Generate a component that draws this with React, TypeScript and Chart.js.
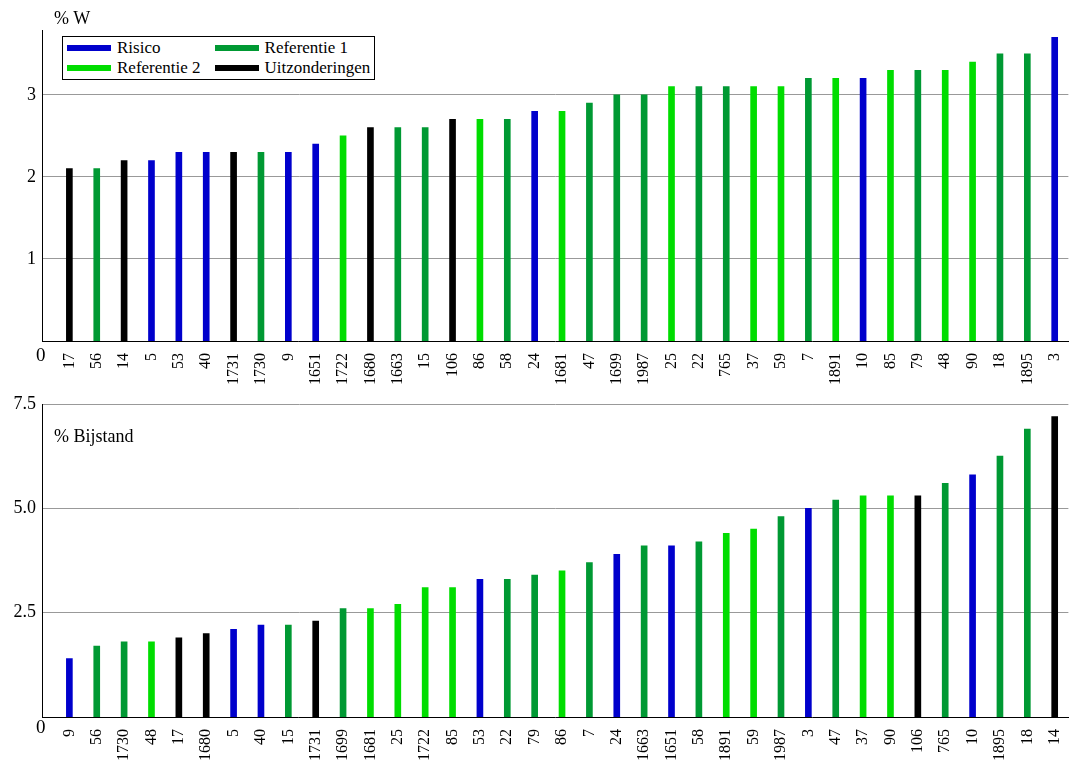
import React, { useEffect, useRef } from "react";
import { Chart, registerables } from "chart.js";
Chart.register(...registerables);

const BLUE = "#0000cc", REF1 = "#009933", REF2 = "#00dd00", BLACK = "#000000";
const colorOf: Record<string, string> = { R: BLUE, A: REF1, B: REF2, U: BLACK };

const topCats = ["17","56","14","5","53","40","1731","1730","9","1651","1722","1680","1663","15","106","86","58","24","1681","47","1699","1987","25","22","765","37","59","7","1891","10","85","79","48","90","18","1895","3"];
const topVals = [2.1,2.1,2.2,2.2,2.3,2.3,2.3,2.3,2.3,2.4,2.5,2.6,2.6,2.6,2.7,2.7,2.7,2.8,2.8,2.9,3.0,3.0,3.1,3.1,3.1,3.1,3.1,3.2,3.2,3.2,3.3,3.3,3.3,3.4,3.5,3.5,3.7];
const topGroups = ["U","A","U","R","R","R","U","A","R","R","B","U","A","A","U","B","A","R","B","A","A","A","B","A","A","B","B","A","B","R","B","A","B","B","A","A","R"];

const botCats = ["9","56","1730","48","17","1680","5","40","15","1731","1699","1681","25","1722","85","53","22","79","86","7","24","1663","1651","58","1891","59","1987","3","47","37","90","106","765","10","1895","18","14"];
const botVals = [1.4,1.7,1.8,1.8,1.9,2.0,2.1,2.2,2.2,2.3,2.6,2.6,2.7,3.1,3.1,3.3,3.3,3.4,3.5,3.7,3.9,4.1,4.1,4.2,4.4,4.5,4.8,5.0,5.2,5.3,5.3,5.3,5.6,5.8,6.25,6.9,7.2];
const botGroups = ["R","A","A","B","U","U","R","R","A","U","A","B","B","B","B","R","A","A","B","A","R","A","R","A","B","B","A","R","A","B","B","U","A","R","A","A","U"];

const topTicks = [1, 2, 3];
const botTicks = [2.5, 5.0, 7.5];
const FONT = "'Liberation Serif', 'DejaVu Serif', serif";

function makeChart(canvas: HTMLCanvasElement, cats: string[], vals: number[], groups: string[], max: number, ticks: number[], fmt: (v: number) => string, padTop: number) {
  return new Chart(canvas, {
    type: "bar",
    data: { datasets: [{ data: vals.map((v, i) => ({ x: i, y: v })), backgroundColor: groups.map(g => colorOf[g]), barThickness: 6 }] },
    options: {
      animation: false, responsive: false,
      layout: { padding: { top: padTop, right: 8, left: 0, bottom: 0 } },
      plugins: { legend: { display: false }, tooltip: { enabled: false } },
      scales: {
        x: {
          type: "linear", min: -1, max: cats.length - 0.5, offset: false,
          afterBuildTicks: (s: any) => { s.ticks = cats.map((_, i) => ({ value: i })); },
          grid: { display: false }, border: { color: "#000" },
          ticks: { color: "#000", font: { family: FONT, size: 16 }, minRotation: 90, maxRotation: 90, autoSkip: false, padding: 4, callback: (v: any) => cats[Number(v)] ?? "" },
          afterFit: (s: any) => { s.height = 46; },
        },
        y: {
          min: 0, max,
          afterBuildTicks: (s: any) => { s.ticks = ticks.map(v => ({ value: v })); },
          grid: { color: "#999", drawTicks: false, lineWidth: 1 },
          border: { color: "#000" },
          ticks: { color: "#000", font: { family: FONT, size: 18 }, padding: 6, callback: (v: any) => fmt(Number(v)) },
          afterFit: (s: any) => { s.width = 42; },
        },
      },
    },
  } as any);
}

export default function App() {
  const r1 = useRef<HTMLCanvasElement>(null);
  const r2 = useRef<HTMLCanvasElement>(null);
  useEffect(() => {
    const c1 = makeChart(r1.current!, topCats, topVals, topGroups, 3.79, topTicks, v => String(v), 30);
    const c2 = makeChart(r2.current!, botCats, botVals, botGroups, 7.5, botTicks, v => v.toFixed(1), 19);
    return () => { c1.destroy(); c2.destroy(); };
  }, []);
  const txt: React.CSSProperties = { position: "absolute", fontFamily: FONT, fontSize: 18, color: "#000" };
  const item = (c: string, t: string) => (
    <div style={{ display: "flex", alignItems: "center", height: 20 }}>
      <span style={{ display: "inline-block", width: 44, height: 6, background: c, marginRight: 6 }} />
      <span>{t}</span>
    </div>
  );
  return (
    <div style={{ position: "absolute", left: 0, top: 0, width: 1078, height: 763, background: "#fff" }}>
      <canvas ref={r1} width={1078} height={387} style={{ position: "absolute", left: 0, top: 0 }} />
      <canvas ref={r2} width={1078} height={378} style={{ position: "absolute", left: 0, top: 385 }} />
      <div style={{ ...txt, left: 54, top: 8 }}>% W</div>
      <div style={{ ...txt, left: 54, top: 426 }}>% Bijstand</div>
      <div style={{ ...txt, left: 36, top: 344, fontSize: 19 }}>0</div>
      <div style={{ ...txt, left: 36, top: 716, fontSize: 19 }}>0</div>
      <div style={{ ...txt, left: 62, top: 36, border: "1px solid #000", background: "#fff", padding: "1px 4px", fontSize: 17, display: "grid", gridTemplateColumns: "auto auto", columnGap: 14, lineHeight: "20px" }}>
        {item(BLUE, "Risico")}{item(REF1, "Referentie 1")}
        {item(REF2, "Referentie 2")}{item(BLACK, "Uitzonderingen")}
      </div>
    </div>
  );
}
